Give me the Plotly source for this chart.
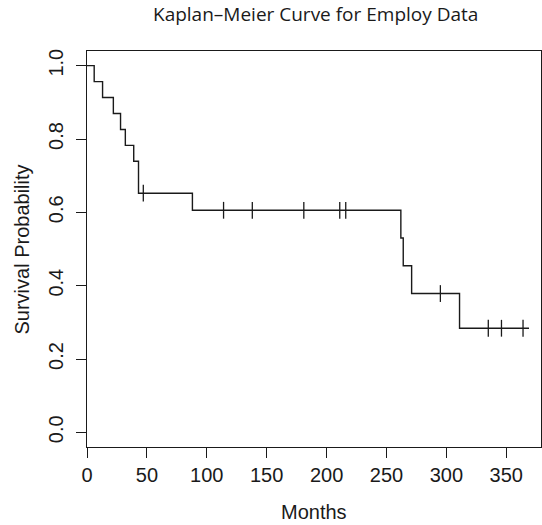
import numpy as np
import plotly.graph_objects as go

# Event (death) times and censored times in months
event_times = [6, 13, 22, 28, 32, 39, 43, 43, 88, 262, 264, 271, 311]
censored_times = [47, 114, 138, 181, 211, 216, 295, 335, 346, 364]
followup_end = 369

x_ticks = [0, 50, 100, 150, 200, 250, 300, 350]
y_ticks = [0.0, 0.2, 0.4, 0.6, 0.8, 1.0]

title_text = "Kaplan\u2013Meier Curve for Employ Data"
x_title = "Months"
y_title = "Survival Probability"

# Kaplan-Meier estimate
times = np.array(event_times + censored_times, dtype=float)
status = np.array([1] * len(event_times) + [0] * len(censored_times))
uniq = np.unique(times[status == 1])
surv = 1.0
step_x = [0.0]
step_y = [1.0]
for t in uniq:
    at_risk = np.sum(times >= t)
    d = np.sum((times == t) & (status == 1))
    surv *= (1 - d / at_risk)
    step_x.append(t)
    step_y.append(surv)
step_x.append(followup_end)
step_y.append(surv)


def surv_at(t):
    s = 1.0
    for xx, yy in zip(step_x, step_y):
        if xx <= t:
            s = yy
    return s


cens_y = [surv_at(t) for t in censored_times]

fig = go.Figure()
fig.add_trace(go.Scatter(x=step_x, y=step_y, mode="lines", line=dict(shape="hv", color="#1a1a1a", width=1.4),
                         hoverinfo="skip", showlegend=False))
fig.add_trace(go.Scatter(x=censored_times, y=cens_y, mode="markers",
                         marker=dict(symbol="line-ns", size=12, line=dict(color="#1a1a1a", width=1.3)),
                         showlegend=False))

# plot area targets (page px): x 86.7-541.2, y 51-446.7 ; body margin removed via post_script
L, R, T, B = 86.7, 541.2, 51, 446.7
W, H = 542, 525
PW, PH = R - L, B - T


def px(xp):
    return (xp - L) / PW


def py(yp):
    return (B - yp) / PH


axis_font = dict(family="Liberation Sans, Arial, sans-serif", size=20, color="#1a1a1a")
fig.update_layout(
    width=W, height=H,
    margin=dict(l=L, r=W - R, t=T, b=H - B, autoexpand=False),
    paper_bgcolor="white", plot_bgcolor="white",
    font=axis_font,
    annotations=[
        dict(text=title_text, xref="paper", yref="paper", x=px(315), y=py(14.5),
             xanchor="center", yanchor="middle", showarrow=False,
             font=dict(family="Open Sans, sans-serif", size=19, color="#1a1a1a")),
        dict(text=x_title, xref="paper", yref="paper", x=px(314), y=py(512),
             xanchor="center", yanchor="middle", showarrow=False, font=axis_font),
        dict(text=y_title, xref="paper", yref="paper", x=px(22), y=py(249), textangle=-90,
             xanchor="center", yanchor="middle", showarrow=False, font=axis_font),
    ],
)
fig.update_xaxes(range=[0, 379], tickvals=x_ticks, ticktext=[str(v) for v in x_ticks], automargin=False,
                 showgrid=False, zeroline=False, showline=True, mirror=True, linecolor="#1a1a1a", linewidth=1,
                 ticks="outside", ticklen=10, tickwidth=1, tickcolor="#1a1a1a", tickfont=axis_font)
fig.update_yaxes(range=[-0.04, 1.04], tickvals=y_ticks, ticktext=[f"{v:.1f}" for v in y_ticks], tickangle=-90,
                 automargin=False, ticklabelstandoff=5,
                 showgrid=False, zeroline=False, showline=True, mirror=True, linecolor="#1a1a1a", linewidth=1,
                 ticks="outside", ticklen=10, tickwidth=1, tickcolor="#1a1a1a", tickfont=axis_font)

fig.write_html("out.html", config={"displayModeBar": False},
               post_script="document.body.style.margin='0';document.body.style.overflow='hidden';")
